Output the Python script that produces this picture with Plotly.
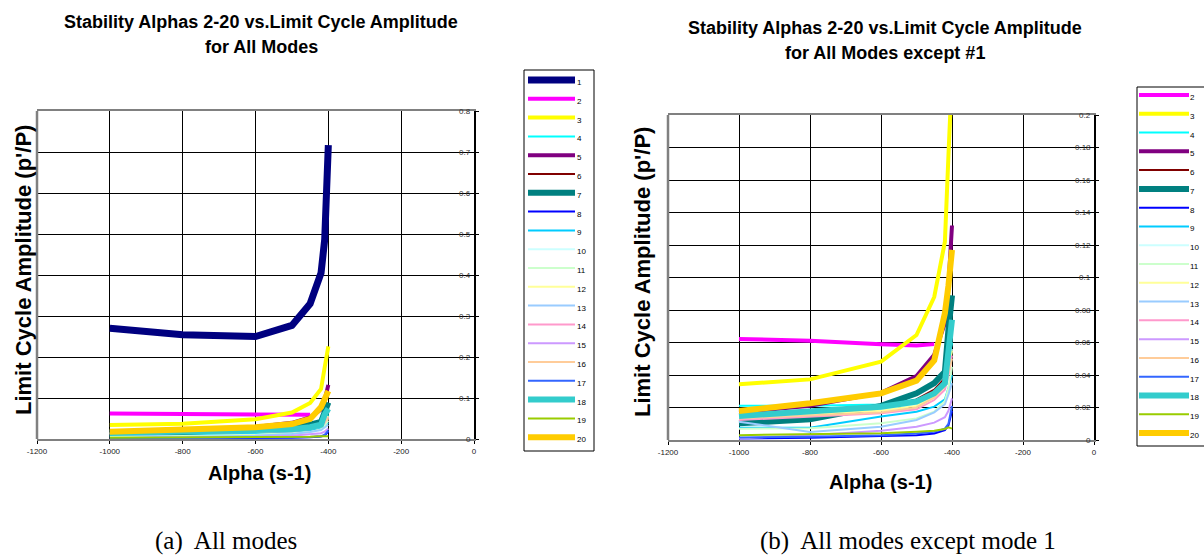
import plotly.graph_objects as go

W, H = 1204, 557

# ---------------- data ----------------
alpha = [-1000, -800, -600, -500, -450, -420, -410, -400]
modes = [str(i) for i in range(1, 21)]
colors = ["#000080", "#FF00FF", "#FFFF00", "#00FFFF", "#800080", "#800000",
          "#008080", "#0000FF", "#00CCFF", "#CCFFFF", "#CCFFCC", "#FFFF99",
          "#99CCFF", "#FF99CC", "#CC99FF", "#FFCC99", "#3366FF", "#33CCCC",
          "#99CC00", "#FFCC00"]
widths = [7, 4, 4, 2, 4, 2, 6, 2, 2, 2, 2, 2, 2, 2, 2, 2, 2, 6, 2, 6]

amp = {
    "1":  [0.270, 0.254, 0.250, 0.277, 0.330, 0.405, 0.486, 0.717],
    "2":  [0.0622, 0.0611, 0.0590, 0.0582, 0.0590, None, None, None],
    "3":  [0.0343, 0.0373, 0.0482, 0.0646, 0.0880, 0.1220, 0.1750, 0.2260],
    "4":  [0.0211, 0.0211, 0.0218, 0.0250, 0.0300, 0.0370, 0.0480, 0.0600],
    "5":  [0.0170, 0.0210, 0.0290, 0.0394, 0.0525, 0.0720, 0.0950, 0.1320],
    "6":  [0.0120, 0.0140, 0.0190, 0.0250, 0.0310, 0.0380, 0.0500, 0.0650],
    "7":  [0.0103, 0.0127, 0.0210, 0.0287, 0.0350, 0.0420, 0.0680, 0.0890],
    "8":  [0.0010, 0.0014, 0.0025, 0.0030, 0.0040, 0.0060, 0.0090, 0.0180],
    "9":  [0.0076, 0.0076, 0.0144, 0.0174, 0.0205, 0.0250, 0.0320, 0.0400],
    "10": [0.0160, 0.0170, 0.0190, 0.0220, 0.0270, 0.0340, 0.0440, 0.0560],
    "11": [0.0070, 0.0072, 0.0103, 0.0133, 0.0174, 0.0240, 0.0320, 0.0450],
    "12": [0.0140, 0.0160, 0.0180, 0.0210, 0.0270, 0.0340, 0.0430, 0.0550],
    "13": [0.0113, 0.0050, 0.0082, 0.0123, 0.0170, 0.0220, 0.0280, 0.0350],
    "14": [0.0123, 0.0144, 0.0164, 0.0189, 0.0246, 0.0310, 0.0400, 0.0520],
    "15": [0.0010, 0.0030, 0.0057, 0.0082, 0.0107, 0.0140, 0.0180, 0.0256],
    "16": [0.0133, 0.0150, 0.0170, 0.0200, 0.0260, 0.0330, 0.0420, 0.0500],
    "17": [0.0015, 0.0020, 0.0030, 0.0040, 0.0050, 0.0070, 0.0100, 0.0210],
    "18": [0.0148, 0.0174, 0.0205, 0.0236, 0.0287, 0.0350, 0.0595, 0.0740],
    "19": [0.0030, 0.0037, 0.0041, 0.0051, 0.0057, 0.0068, 0.0078, 0.0070],
    "20": [0.0178, 0.0226, 0.0287, 0.0365, 0.0490, 0.0780, 0.0950, 0.1170],
}

x_ticks = [-1200, -1000, -800, -600, -400, -200, 0]
x_ticktext = ["-1200", "-1000", "-800", "-600", "-400", "-200", "0"]
yA_ticks = [0, 0.1, 0.2, 0.3, 0.4, 0.5, 0.6, 0.7, 0.8]
yA_ticktext = ["0", "0.1", "0.2", "0.3", "0.4", "0.5", "0.6", "0.7", "0.8"]
yB_ticks = [0, 0.02, 0.04, 0.06, 0.08, 0.1, 0.12, 0.14, 0.16, 0.18, 0.2]
yB_ticktext = ["0", "0.02", "0.04", "0.06", "0.08", "0.1", "0.12", "0.14",
               "0.16", "0.18", "0.2"]

title_a = ["Stability Alphas 2-20 vs.Limit Cycle Amplitude", "for All Modes"]
title_b = ["Stability Alphas 2-20 vs.Limit Cycle Amplitude", "for All Modes except #1"]
x_title = "Alpha (s-1)"
y_title = "Limit Cycle Amplitude (p'/P)"
caption_a = "(a)  All modes"
caption_b = "(b)  All modes except mode 1"

# ---------------- helpers ----------------
def PX(px):
    return px / W

def PY(py):
    return 1 - py / H

SANS = "Liberation Sans, Arial, sans-serif"
SERIF = "Liberation Serif, Times New Roman, serif"

fig = go.Figure()

# panel a: all modes
for m, c, w in zip(modes, colors, widths):
    fig.add_trace(go.Scatter(x=alpha, y=amp[m], mode="lines", name=m,
                             line=dict(color=c, width=w), showlegend=False,
                             xaxis="x", yaxis="y", connectgaps=False))
# panel b: except mode 1
for m, c, w in zip(modes[1:], colors[1:], widths[1:]):
    fig.add_trace(go.Scatter(x=alpha, y=amp[m], mode="lines", name=m,
                             line=dict(color=c, width=w), showlegend=False,
                             xaxis="x2", yaxis="y2", connectgaps=False))

tickfont = dict(family=SANS, size=8, color="#222")

def xax(domain, anchor):
    return dict(domain=domain, range=[-1200, 0], tickvals=x_ticks, ticktext=x_ticktext,
                showgrid=True, gridcolor="#000", gridwidth=1, zeroline=False,
                showline=True, mirror=True, linecolor="#808080", linewidth=2,
                ticks="outside", ticklen=3, tickcolor="#000", tickfont=tickfont,
                anchor=anchor, automargin=False)

def yax(domain, rng, tv, anchor):
    return dict(domain=domain, range=rng, tickvals=tv, side="right",
                showticklabels=False, showgrid=True, gridcolor="#000", gridwidth=1,
                zeroline=False, showline=True, linecolor="#000", linewidth=1.5,
                ticks="outside", ticklen=3, tickcolor="#000",
                anchor=anchor, automargin=False)

axA_x = [PX(37), PX(474)]
axA_y = [PY(439), PY(111)]
axB_x = [PX(668), PX(1094)]
axB_y = [PY(440), PY(115)]

fig.update_layout(
    width=W, height=H, margin=dict(l=0, r=0, t=0, b=0, pad=0),
    paper_bgcolor="white", plot_bgcolor="white", showlegend=False,
    xaxis=xax(axA_x, "y"), yaxis=yax(axA_y, [0, 0.8], yA_ticks, "x"),
    xaxis2=xax(axB_x, "y2"), yaxis2=yax(axB_y, [0, 0.2], yB_ticks, "x2"),
)

shapes = []
annos = []

# left gray borders of plot areas
for xr, yr in [("x domain", "y domain"), ("x2 domain", "y2 domain")]:
    shapes.append(dict(type="line", xref=xr, yref=yr, x0=0, x1=0, y0=0, y1=1,
                       line=dict(color="#808080", width=2.5), layer="above"))

# y tick labels, drawn just inside the right-hand axis
for xr, yr, tv, tt in [("x domain", "y", yA_ticks, yA_ticktext),
                       ("x2 domain", "y2", yB_ticks, yB_ticktext)]:
    for v, t in zip(tv, tt):
        annos.append(dict(text=t, x=1, y=v, xref=xr, yref=yr, showarrow=False,
                          xanchor="right", yanchor="middle", xshift=-1,
                          font=dict(family=SANS, size=8, color="#333")))

# titles
for (txt, cx, cy) in [(title_a[0], 261, 22), (title_a[1], 261, 47),
                      (title_b[0], 885, 28), (title_b[1], 885, 53)]:
    annos.append(dict(text="<b>%s</b>" % txt, x=PX(cx), y=PY(cy), xref="paper", yref="paper",
                      showarrow=False, xanchor="center", yanchor="middle",
                      font=dict(family=SANS, size=18, color="#000")))
# axis titles
for (cx, cy) in [(259, 473), (880, 482)]:
    annos.append(dict(text="<b>%s</b>" % x_title, x=PX(cx), y=PY(cy), xref="paper", yref="paper",
                      showarrow=False, xanchor="center", yanchor="middle",
                      font=dict(family=SANS, size=20, color="#000")))
for (cx, cy) in [(23, 270), (642, 272)]:
    annos.append(dict(text="<b>%s</b>" % y_title, x=PX(cx), y=PY(cy), xref="paper", yref="paper",
                      showarrow=False, xanchor="center", yanchor="middle", textangle=-90,
                      font=dict(family=SANS, size=22, color="#000")))
# captions
for (txt, cx) in [(caption_a, 226), (caption_b, 908)]:
    annos.append(dict(text=txt, x=PX(cx), y=PY(541), xref="paper", yref="paper",
                      showarrow=False, xanchor="center", yanchor="middle",
                      font=dict(family=SERIF, size=25, color="#000")))

# legends (drawn as boxes with sample lines and labels)
def legend(names, cols, wids, box, first_y, step, sx0, sx1, lx):
    shapes.append(dict(type="rect", xref="paper", yref="paper",
                       x0=PX(box[0]), x1=PX(box[2]), y0=PY(box[3]), y1=PY(box[1]),
                       line=dict(color="#000", width=1), fillcolor="white", layer="above"))
    for i, (n, c, w) in enumerate(zip(names, cols, wids)):
        yy = first_y + i * step
        shapes.append(dict(type="line", xref="paper", yref="paper",
                           x0=PX(sx0), x1=PX(sx1), y0=PY(yy), y1=PY(yy),
                           line=dict(color=c, width=w), layer="above"))
        annos.append(dict(text=n, x=PX(lx), y=PY(yy + 2.5), xref="paper", yref="paper",
                          showarrow=False, xanchor="left", yanchor="middle",
                          font=dict(family=SANS, size=8, color="#000")))

legend(modes, colors, widths, (524, 70, 594, 451), 80, 18.8, 528, 575, 575)
legend(modes[1:], colors[1:], widths[1:], (1137, 87, 1240, 446), 95, 18.78, 1139, 1189, 1188)

fig.update_layout(shapes=shapes, annotations=annos)
fig.write_html("out.html", config={"displayModeBar": False},
               post_script="document.body.style.margin='0';document.body.style.overflow='hidden';")
